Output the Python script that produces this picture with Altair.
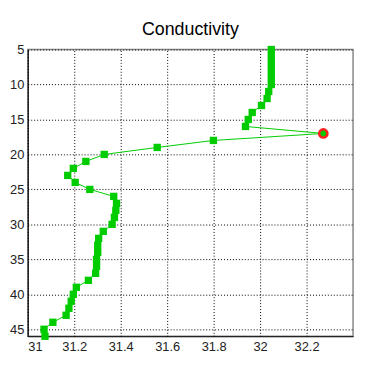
import altair as alt
import pandas as pd

depth = list(range(5, 47))
conductivity = [
    32.048, 32.048, 32.048, 32.048, 32.048, 32.048,  # 5-10
    32.037, 32.030, 32.006, 31.966, 31.949, 31.937,  # 11-16
    32.272,                                          # 17 (highlighted)
    31.799, 31.557, 31.329, 31.250, 31.196, 31.172,  # 18-23
    31.204, 31.267, 31.370, 31.382, 31.379, 31.373,  # 24-29
    31.363, 31.325, 31.305, 31.301, 31.301, 31.296,  # 30-35
    31.296, 31.292, 31.261, 31.209, 31.196, 31.187,  # 36-41
    31.177, 31.165, 31.108, 31.070, 31.074,          # 42-46
]
highlight_depth = 17
x_ticks = [31.0, 31.2, 31.4, 31.6, 31.8, 32.0, 32.2]
y_ticks = [5, 10, 15, 20, 25, 30, 35, 40, 45]

df = pd.DataFrame({"depth": depth, "cond": conductivity})
df["hl"] = df["depth"] == highlight_depth

GREEN = "#00CC00"
FONT = "Liberation Sans"

x = alt.X("cond:Q", scale=alt.Scale(domain=[31, 32.4], nice=False, zero=False),
          axis=alt.Axis(values=x_ticks, format="~g", title=None))
y = alt.Y("depth:Q", scale=alt.Scale(domain=[5, 46], reverse=True, nice=False, zero=False),
          axis=alt.Axis(values=y_ticks, title=None, minExtent=19, maxExtent=19))

base = alt.Chart(df)
line = base.mark_line(color=GREEN, strokeWidth=1).encode(x=x, y=y, order="depth:Q")
squares = base.transform_filter("!datum.hl").mark_square(
    color=GREEN, size=55, opacity=1).encode(x=x, y=y)
hl = base.transform_filter("datum.hl").mark_circle(
    fill=GREEN, stroke="#FF2020", strokeWidth=2.5, size=70, opacity=1).encode(x=x, y=y)

chart = alt.layer(line, squares, hl).properties(
    width=329, height=290,
    title=alt.TitleParams("Conductivity", fontSize=18, font=FONT, fontWeight="normal",
                          color="#000000", offset=5, anchor="middle"),
    padding={"left": 1, "top": 11, "right": 5, "bottom": 5},
    background="white",
).configure_axis(
    labelFont=FONT, labelFontSize=13, labelColor="#222222", labelPadding=4,
    ticks=False, domainColor="#000000", domainWidth=1,
    grid=True, gridColor="#000000", gridDash=[1, 2], gridOpacity=1, gridWidth=1,
).configure_view(stroke="#888888", strokeWidth=1.5)

chart.save("out.html", embed_options={"renderer": "svg", "actions": False})
